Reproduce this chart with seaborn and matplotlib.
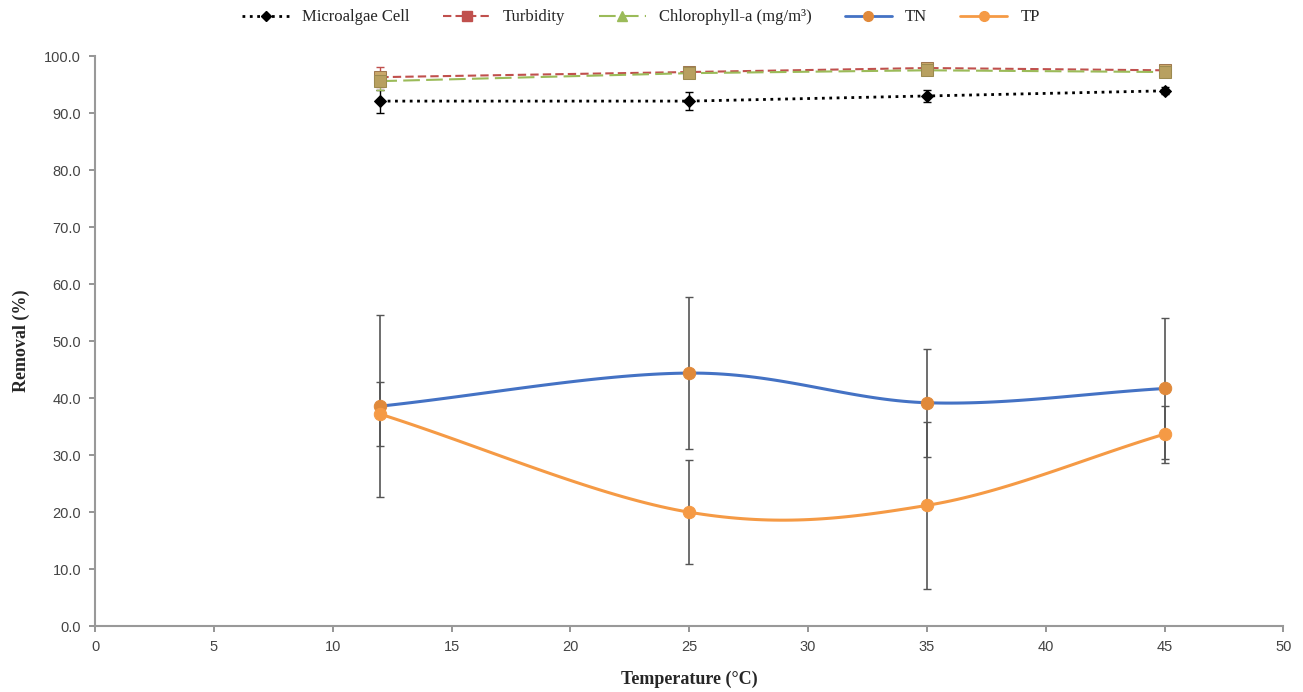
import matplotlib
matplotlib.use("Agg")
import matplotlib.pyplot as plt
from matplotlib.lines import Line2D
import numpy as np
import pandas as pd
import seaborn as sns

# data
temperature = [12, 25, 35, 45]
microalgae = [92.1, 92.1, 93.0, 93.9]
microalgae_err = [2.0, 1.6, 1.0, 0.6]
turbidity = [96.3, 97.2, 97.9, 97.5]
turbidity_err = [1.8, 0.8, 0.6, 0.6]
chlorophyll = [95.6, 97.0, 97.5, 97.2]
chlorophyll_err = [1.5, 0.8, 0.6, 0.6]
tn = [38.6, 44.4, 39.2, 41.7]
tn_err = [16.0, 13.4, 9.5, 12.4]
tp = [37.2, 20.0, 21.2, 33.7]
tp_err = [5.6, 9.1, 14.6, 5.0]

x_ticks = list(range(0, 55, 5))
y_ticks = list(range(0, 110, 10))

df = pd.DataFrame({"T": temperature, "Microalgae Cell": microalgae,
                   "Turbidity": turbidity, "Chlorophyll": chlorophyll,
                   "TN": tn, "TP": tp})


def smooth(x, y, n=40):
    # Catmull-Rom curve through the points, like Excel's smoothed line
    x = np.asarray(x, float)
    y = np.asarray(y, float)
    px = np.concatenate([[2 * x[0] - x[1]], x, [2 * x[-1] - x[-2]]])
    py = np.concatenate([[2 * y[0] - y[1]], y, [2 * y[-1] - y[-2]]])
    xs, ys = [], []
    t = np.linspace(0, 1, n)
    for i in range(1, len(px) - 2):
        for p, out in ((px, xs), (py, ys)):
            p0, p1, p2, p3 = p[i - 1], p[i], p[i + 1], p[i + 2]
            out.extend(0.5 * (2 * p1 + (-p0 + p2) * t
                              + (2 * p0 - 5 * p1 + 4 * p2 - p3) * t ** 2
                              + (-p0 + 3 * p1 - 3 * p2 + p3) * t ** 3))
    return xs, ys


sns.set_theme(style="white")
plt.rcParams["font.family"] = ["Liberation Serif", "DejaVu Serif"]

fig, ax = plt.subplots(figsize=(13.03, 6.92), dpi=100)
fig.subplots_adjust(left=0.073, right=0.985, bottom=0.095, top=0.919)

c_micro = "black"
c_turb = "#C0504D"
c_chl = "#9BBB59"
c_tn = "#4472C4"
c_tp = "#F59A45"
c_mark = "#E0893A"
c_err = "#555555"

# error bars
ax.errorbar(temperature, microalgae, yerr=microalgae_err, fmt="none",
            ecolor="black", elinewidth=1, capsize=3, zorder=2)
ax.errorbar(temperature, turbidity, yerr=turbidity_err, fmt="none",
            ecolor=c_turb, elinewidth=1, capsize=3, zorder=2)
ax.errorbar(temperature, chlorophyll, yerr=chlorophyll_err, fmt="none",
            ecolor=c_chl, elinewidth=1, capsize=3, zorder=2)
ax.errorbar(temperature, tn, yerr=tn_err, fmt="none",
            ecolor=c_err, elinewidth=1.2, capsize=3, zorder=2)
ax.errorbar(temperature, tp, yerr=tp_err, fmt="none",
            ecolor=c_err, elinewidth=1.2, capsize=3, zorder=2)

# straight series
sns.lineplot(data=df, x="T", y="Microalgae Cell", color=c_micro, ax=ax,
             linestyle=":", linewidth=2, marker="D", markersize=6,
             markeredgecolor=c_micro, zorder=3)
sns.lineplot(data=df, x="T", y="Turbidity", color=c_turb, ax=ax,
             linestyle=(0, (4, 2)), linewidth=1.5, marker="s", markersize=8,
             markerfacecolor="#C9A86A", markeredgecolor="#A07850", zorder=3)
sns.lineplot(data=df, x="T", y="Chlorophyll", color=c_chl, ax=ax,
             linestyle=(0, (8, 3)), linewidth=1.5, marker="s", markersize=8,
             markerfacecolor="#B8A060", markeredgecolor="#9C8A50", zorder=3)

# smoothed TN / TP
sx, sy = smooth(temperature, tn)
ax.plot(sx, sy, color=c_tn, linewidth=2.2, zorder=3)
sx, sy = smooth(temperature, tp)
ax.plot(sx, sy, color=c_tp, linewidth=2.2, zorder=3)
sns.scatterplot(data=df, x="T", y="TN", color=c_mark, s=80, ax=ax,
                edgecolor=c_mark, zorder=4)
sns.scatterplot(data=df, x="T", y="TP", color=c_tp, s=80, ax=ax,
                edgecolor=c_tp, zorder=4)

ax.set_xlim(0, 50)
ax.set_ylim(0, 100)
ax.set_xticks(x_ticks)
ax.set_yticks(y_ticks)
ax.set_yticklabels([f"{v:.1f}" for v in y_ticks])
for lab in ax.get_xticklabels() + ax.get_yticklabels():
    lab.set_fontfamily("Liberation Sans")
    lab.set_fontsize(10.5)
    lab.set_color("#444444")
ax.tick_params(axis="both", direction="out", length=4, color="#888888",
               bottom=True, left=True, pad=6)
for side in ["top", "right"]:
    ax.spines[side].set_visible(False)
for side in ["left", "bottom"]:
    ax.spines[side].set_color("#999999")
    ax.spines[side].set_linewidth(1.5)

ax.set_xlabel("Temperature (°C)", fontsize=13, fontweight="bold", labelpad=12)
ax.set_ylabel("Removal (%)", fontsize=13, fontweight="bold", labelpad=10)

handles = [
    Line2D([], [], color=c_micro, linestyle=":", linewidth=2, marker="D",
           markersize=5),
    Line2D([], [], color=c_turb, linestyle=(0, (4, 2)), linewidth=1.5,
           marker="s", markersize=7),
    Line2D([], [], color=c_chl, linestyle=(0, (8, 3)), linewidth=1.5,
           marker="^", markersize=7),
    Line2D([], [], color=c_tn, linewidth=2, marker="o", markersize=7,
           markerfacecolor=c_mark, markeredgecolor=c_mark),
    Line2D([], [], color=c_tp, linewidth=2, marker="o", markersize=7),
]
labels = ["Microalgae Cell", "Turbidity", "Chlorophyll-a (mg/m³)", "TN", "TP"]
fig.legend(handles, labels, loc="upper center", bbox_to_anchor=(0.492, 1.008),
           ncol=5, frameon=False, fontsize=12, handlelength=2.8,
           columnspacing=2.0)

fig.savefig("out.png", dpi=100)
